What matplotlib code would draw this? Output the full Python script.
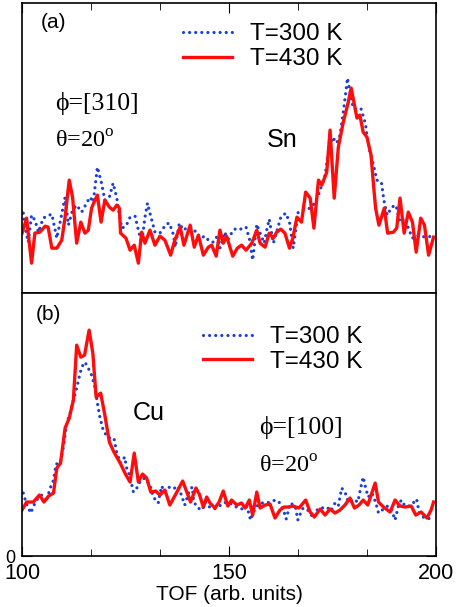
import numpy as np
import matplotlib
matplotlib.use('Agg')
from matplotlib import pyplot as plt
from matplotlib.ticker import MultipleLocator, FixedLocator

plt.rcParams['font.family'] = ['Liberation Sans', 'DejaVu Sans']

# panel (a): Sn peak, phi=[310]
a_x_430 = [100.0, 101.1, 102.3, 103.1, 104.3, 105.6, 106.3, 107.2, 108.4, 109.6,
           110.4, 111.4, 112.2, 113.2, 114.2, 115.2, 116.0, 116.8, 117.4, 118.2,
           119.1, 120.0, 121.1, 122.0, 122.9, 123.5, 123.8, 125.1, 126.1, 127.1,
           128.1, 128.9, 129.7, 130.9, 132.1, 133.3, 134.5, 135.9, 136.9, 138.2,
           139.1, 140.6, 141.6, 142.6, 143.8, 145.0, 145.8, 146.9, 147.8, 148.6,
           149.4, 150.9, 152.0, 153.0, 154.1, 155.5, 156.7, 157.5, 158.7, 159.7,
           160.7, 161.5, 162.5, 163.5, 164.6, 165.4, 166.4, 167.5, 168.5, 169.6,
           170.5, 171.6, 172.4, 173.6, 174.4, 175.4, 176.4, 177.6, 178.8, 179.5,
           180.3, 180.9, 181.6, 182.4, 183.3, 184.3, 184.9, 185.4, 186.2, 187.5,
           188.3, 189.7, 190.5, 191.3, 192.3, 193.3, 194.3, 195.2, 196.3, 197.2,
           198.2, 199.4]
a_y_430 = [60, 75, 30, 60, 61, 67, 66, 45, 45, 53,
           76, 113, 96, 50, 71, 60, 63, 85, 91, 98,
           71, 93, 86, 83, 88, 85, 60, 55, 43, 48,
           30, 61, 50, 63, 48, 57, 53, 38, 53, 66,
           48, 68, 46, 58, 38, 46, 48, 37, 63, 50,
           57, 37, 45, 48, 43, 50, 63, 50, 46, 60,
           55, 61, 64, 60, 45, 55, 76, 71, 101, 95,
           65, 113, 108, 121, 163, 95, 146, 171, 191, 205,
           188, 175, 178, 161, 156, 138, 108, 85, 68, 85,
           60, 61, 65, 95, 60, 81, 71, 41, 75, 68,
           38, 56]

a_x_300 = [100.3, 101.0, 101.5, 102.3, 103.1, 104.0, 105.1, 106.0, 107.2, 108.4,
           109.2, 110.4, 111.2, 112.2, 113.2, 114.4, 115.6, 116.4, 117.2, 118.2,
           119.2, 120.0, 121.1, 122.0, 122.9, 123.5, 124.1, 125.1, 126.1, 127.3,
           128.1, 128.9, 129.7, 130.3, 130.9, 132.1, 133.3, 134.8, 135.6, 136.6,
           137.0, 138.0, 139.0, 140.0, 141.0, 142.2, 143.0, 144.2, 145.2, 146.2,
           147.0, 147.8, 148.9, 149.8, 151.0, 151.9, 153.0, 154.1, 155.0, 155.7,
           156.7, 157.5, 158.5, 159.1, 159.7, 160.7, 161.5, 162.5, 163.7, 164.6,
           165.5, 166.7, 167.9, 169.6, 170.9, 172.0, 173.2, 174.0, 175.0, 176.0,
           176.8, 177.6, 178.2, 178.6, 179.2, 180.0, 180.9, 181.9, 182.9, 183.8,
           184.9, 185.7, 186.8, 187.4, 188.2, 189.3, 190.3, 191.3, 192.5, 193.3,
           194.3, 195.4, 196.4, 197.8, 199.4]
a_y_300 = [80, 60, 51, 78, 73, 61, 75, 77, 79, 55,
           71, 96, 68, 83, 88, 81, 90, 96, 91, 126,
           110, 93, 96, 110, 95, 78, 65, 67, 76, 77,
           63, 50, 76, 90, 80, 61, 60, 69, 70, 58,
           46, 70, 63, 66, 66, 60, 55, 57, 52, 51,
           56, 45, 61, 54, 63, 65, 64, 66, 53, 33,
           69, 60, 50, 63, 74, 50, 61, 76, 80, 71,
           45, 81, 83, 85, 91, 103, 118, 141, 156, 150,
           158, 181, 201, 215, 201, 185, 183, 184, 170, 145,
           128, 113, 111, 93, 78, 86, 88, 71, 75, 65,
           55, 58, 56, 57, 56]

# panel (b): Cu peak, phi=[100]
b_x_430 = [100.0, 101.1, 102.7, 104.2, 105.3, 106.4, 107.6, 108.4, 109.3, 110.4,
           111.4, 112.4, 113.2, 114.2, 115.1, 116.2, 117.1, 117.9, 119.0, 120.0,
           121.1, 122.2, 123.7, 125.1, 126.1, 127.1, 128.1, 129.1, 130.1, 131.1,
           132.3, 133.3, 134.5, 135.7, 137.4, 138.8, 139.8, 140.7, 142.0, 142.8,
           143.8, 144.6, 145.4, 146.6, 147.6, 148.6, 149.7, 150.6, 151.9, 153.0,
           153.9, 154.9, 155.7, 156.7, 157.5, 158.7, 159.9, 161.1, 162.3, 163.3,
           164.3, 165.5, 166.9, 168.5, 169.6, 170.6, 172.0, 173.2, 174.4, 175.6,
           176.8, 178.0, 179.2, 180.3, 181.4, 182.4, 183.5, 185.3, 186.1, 187.3,
           188.9, 190.1, 191.3, 192.5, 194.0, 195.1, 196.4, 197.8, 198.8, 199.4]
b_y_430 = [46, 54, 54, 61, 54, 60, 63, 88, 93, 128,
           138, 156, 211, 199, 201, 226, 203, 159, 163, 141,
           114, 104, 93, 81, 74, 103, 74, 82, 78, 64,
           65, 61, 66, 51, 64, 75, 64, 54, 68, 62,
           49, 59, 53, 48, 54, 65, 50, 56, 51, 53,
           48, 56, 41, 64, 48, 51, 52, 38, 46, 49,
           49, 50, 48, 56, 44, 39, 47, 41, 47, 43,
           46, 51, 58, 48, 51, 56, 51, 73, 54, 49,
           44, 56, 50, 49, 50, 41, 44, 38, 46, 54]

b_x_300 = [100.3, 101.0, 102.1, 102.9, 104.0, 104.8, 105.8, 106.8, 107.6, 108.2,
           109.2, 110.0, 110.8, 111.6, 112.4, 113.2, 113.8, 114.4, 115.2, 116.0,
           116.8, 117.6, 118.2, 118.8, 119.6, 120.6, 121.4, 122.2, 122.9, 123.8,
           124.8, 125.2, 126.1, 126.9, 127.9, 128.7, 129.7, 130.9, 131.7, 132.9,
           133.7, 134.5, 135.4, 136.5, 137.6, 138.5, 139.3, 140.3, 141.1, 141.5,
           142.5, 143.5, 144.3, 145.3, 146.4, 147.4, 148.6, 149.8, 151.0, 152.2,
           153.4, 154.3, 155.2, 156.3, 157.5, 158.3, 159.2, 160.3, 161.4, 162.3,
           163.3, 163.8, 164.8, 166.0, 166.6, 167.6, 167.9, 169.0, 170.4, 171.4,
           172.4, 173.6, 174.6, 175.6, 176.4, 177.2, 178.0, 178.8, 180.0, 181.1,
           181.9, 182.4, 183.0, 183.6, 184.5, 185.4, 186.1, 187.0, 188.3, 189.3,
           190.1, 190.9, 191.6, 192.5, 193.7, 194.7, 195.3, 195.9, 196.9, 198.1,
           198.9]
b_y_300 = [63, 53, 43, 51, 59, 61, 54, 68, 76, 92,
           93, 109, 133, 143, 156, 168, 179, 189, 194, 188,
           181, 169, 153, 139, 126, 119, 118, 118, 103, 93,
           99, 89, 79, 64, 69, 76, 78, 71, 59, 53,
           70, 64, 69, 67, 70, 61, 51, 64, 69, 54,
           48, 46, 54, 49, 47, 49, 53, 54, 51, 48,
           47, 50, 36, 48, 53, 53, 53, 55, 56, 53,
           44, 37, 53, 50, 36, 46, 48, 46, 38, 47,
           48, 49, 45, 53, 50, 68, 64, 54, 57, 54,
           70, 79, 68, 59, 63, 54, 43, 46, 50, 46,
           36, 50, 56, 50, 50, 54, 57, 44, 39, 37,
           39]

labels = ['T=300 K', 'T=430 K']
blue = '#1a40d8'
red = '#ff0d0d'
dots = (0, (0.01, 1.9))
serif = ['Liberation Serif', 'DejaVu Serif']

fig = plt.figure(figsize=(4.59, 6.07), dpi=100)
ax1 = fig.add_axes([0.048, 0.517, 0.902, 0.478])
ax2 = fig.add_axes([0.048, 0.084, 0.902, 0.433])

for ax in (ax1, ax2):
    ax.set_xlim(100, 200)
    ax.xaxis.set_major_locator(FixedLocator([100, 150, 200]))
    ax.xaxis.set_minor_locator(MultipleLocator(50 / 3))
    for s in ax.spines.values():
        s.set_linewidth(1.2)

leg_kw = dict(loc='upper left', frameon=False, fontsize=17.5, borderpad=0,
              borderaxespad=0, handlelength=2.0, handletextpad=0.75,
              labelspacing=0.12)

# (a)
ax1.plot(a_x_300, a_y_300, color=blue, lw=2.3, ls=dots, dash_capstyle='round',
         label=labels[0])
ax1.plot(a_x_430, a_y_430, color=red, lw=2.4, label=labels[1])
ax1.set_ylim(0, 290)
ax1.set_yticks([])
ax1.tick_params(axis='x', which='both', direction='in', top=True, bottom=False,
                labelbottom=False)
ax1.tick_params(axis='x', which='major', length=7)
ax1.tick_params(axis='x', which='minor', length=5)
ax1.legend(bbox_to_anchor=(0.389, 0.93), **leg_kw)
ax1.text(104.6, 271, '(a)', fontsize=15, ha='left', va='center')
ax1.text(108, 183, 'ϕ=[310]', fontsize=18.5, family=serif, va='baseline')
ax1.text(108, 145, 'θ=20$^\\mathregular{o}$', fontsize=17.5,
         family=serif, va='baseline')
ax1.text(159.2, 146, 'Sn', fontsize=18, va='baseline')

# (b)
ax2.plot(b_x_300, b_y_300, color=blue, lw=2.3, ls=dots, dash_capstyle='round',
         label=labels[0])
ax2.plot(b_x_430, b_y_430, color=red, lw=2.4, label=labels[1])
ax2.set_ylim(0, 263)
ax2.set_yticks([0])
ax2.tick_params(axis='y', direction='in', left=True, right=True, length=7,
                labelsize=13, pad=5)
ax2.tick_params(axis='x', which='both', direction='in', top=False, labelsize=15.5)
ax2.tick_params(axis='x', which='major', length=7, pad=5)
ax2.tick_params(axis='x', which='minor', length=5)
ax2.set_xlabel('TOF (arb. units)', fontsize=15, labelpad=1)
ax2.legend(bbox_to_anchor=(0.437, 0.875), **leg_kw)
ax2.text(103.4, 242, '(b)', fontsize=15, ha='left', va='center')
ax2.text(126.8, 136, 'Cu', fontsize=18, va='baseline')
ax2.text(157.2, 122, 'ϕ=[100]', fontsize=18.5, family=serif, va='baseline')
ax2.text(157.2, 83, 'θ=20$^\\mathregular{o}$', fontsize=17.5,
         family=serif, va='baseline')

fig.savefig('out.png', dpi=100)
